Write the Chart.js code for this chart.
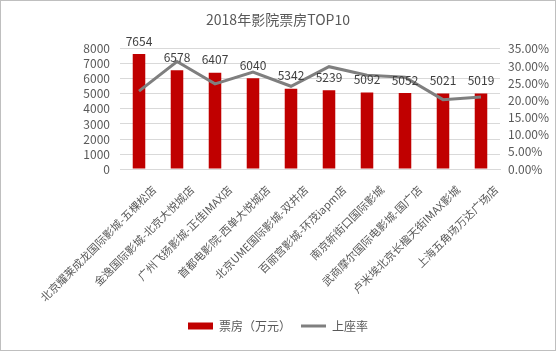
<!DOCTYPE html>
<html>
<head>
<meta charset="utf-8">
<script src="https://cdn.jsdelivr.net/npm/chart.js@4.4.0/dist/chart.umd.min.js"></script>
<style>
    html, body { margin: 0; padding: 0; background: #fff; }
    #wrap {
        position: relative;
        width: 556px;
        height: 351px;
        box-sizing: border-box;
        border: 1px solid #bfbfbf;
    }
</style>
</head>
<body>
<div id="wrap"><canvas id="chart"></canvas></div>
<script>
// Données
const cinemas = [
    '北京耀莱成龙国际影城-五棵松店',
    '金逸国际影城-北京大悦城店',
    '广州飞扬影城-正佳IMAX店',
    '首都电影院-西单大悦城店',
    '北京UME国际影城-双井店',
    '百丽宫影城-环茂iapm店',
    '南京新街口国际影城',
    '武商摩尔国际电影城-国广店',
    '卢米埃北京长楹天街IMAX影城',
    '上海五角场万达广场店'
];
const boxOffice = [7654, 6578, 6407, 6040, 5342, 5239, 5092, 5052, 5021, 5019];
const occupancy = [22.7, 31.3, 24.8, 28.2, 24.1, 29.8, 27.3, 26.7, 20.2, 21.0];

const FONT = '"Noto Sans CJK SC", "Noto Sans", sans-serif';
const TEXT = '#595959';

// Étiquettes au-dessus des barres
const barLabels = {
    id: 'barLabels',
    afterDatasetsDraw(chart) {
        const ctx = chart.ctx;
        const meta = chart.getDatasetMeta(0);
        ctx.save();
        ctx.font = '12px ' + FONT;
        ctx.fillStyle = '#404040';
        ctx.textAlign = 'center';
        ctx.textBaseline = 'bottom';
        meta.data.forEach((bar, i) => {
            ctx.fillText(boxOffice[i], bar.x, bar.y - 7);
        });
        ctx.restore();
    }
};

new Chart(document.getElementById('chart'), {
    data: {
        labels: cinemas,
        datasets: [
            {
                type: 'bar',
                label: '票房（万元）',
                data: boxOffice,
                backgroundColor: '#C00000',
                yAxisID: 'y',
                order: 1,
                barPercentage: 0.33,
                categoryPercentage: 1
            },
            {
                type: 'line',
                label: '上座率',
                data: occupancy,
                borderColor: '#7F7F7F',
                backgroundColor: '#7F7F7F',
                borderWidth: 3,
                pointRadius: 0,
                tension: 0,
                yAxisID: 'y1',
                order: 0
            }
        ]
    },
    options: {
        responsive: true,
        maintainAspectRatio: false,
        animation: false,
        layout: { padding: { top: 4, bottom: 8, left: 0, right: 0 } },
        plugins: {
            title: {
                display: true,
                text: '2018年影院票房TOP10',
                color: TEXT,
                font: { family: FONT, size: 14, weight: 'normal' },
                padding: { top: 6, bottom: 21 }
            },
            legend: {
                position: 'bottom',
                labels: {
                    color: TEXT,
                    font: { family: FONT, size: 12 },
                    usePointStyle: true,
                    pointStyleWidth: 25,
                    boxHeight: 7,
                    padding: 10,
                    sort: (a, b) => a.datasetIndex - b.datasetIndex,
                    generateLabels(chart) {
                        const items = Chart.defaults.plugins.legend.labels.generateLabels(chart);
                        items.forEach(item => {
                            item.pointStyle = item.datasetIndex === 0 ? 'rect' : 'line';
                            item.lineWidth = item.datasetIndex === 0 ? 0 : 3;
                        });
                        return items;
                    }
                }
            },
            tooltip: { enabled: false }
        },
        scales: {
            x: {
                grid: { display: false },
                border: { color: '#D9D9D9' },
                ticks: {
                    color: TEXT,
                    font: { family: FONT, size: 11 },
                    maxRotation: 45,
                    minRotation: 45,
                    autoSkip: false,
                    padding: 6,
                    labelOffset: 15
                }
            },
            y: {
                position: 'left',
                min: 0,
                max: 8000,
                grid: { color: '#D9D9D9', drawTicks: false },
                border: { display: false },
                ticks: {
                    stepSize: 1000,
                    autoSkip: false,
                    color: TEXT,
                    font: { family: FONT, size: 12 },
                    padding: 10,
                    callback: v => String(v)
                },
                afterFit(scale) { scale.width = 119; }
            },
            y1: {
                position: 'right',
                min: 0,
                max: 35,
                grid: { display: false, drawTicks: false },
                border: { display: false },
                ticks: {
                    stepSize: 5,
                    autoSkip: false,
                    color: TEXT,
                    font: { family: FONT, size: 12 },
                    padding: 8,
                    callback: v => v.toFixed(2) + '%'
                },
                afterFit(scale) { scale.width = 55; }
            }
        }
    },
    plugins: [barLabels]
});
</script>
</body>
</html>
